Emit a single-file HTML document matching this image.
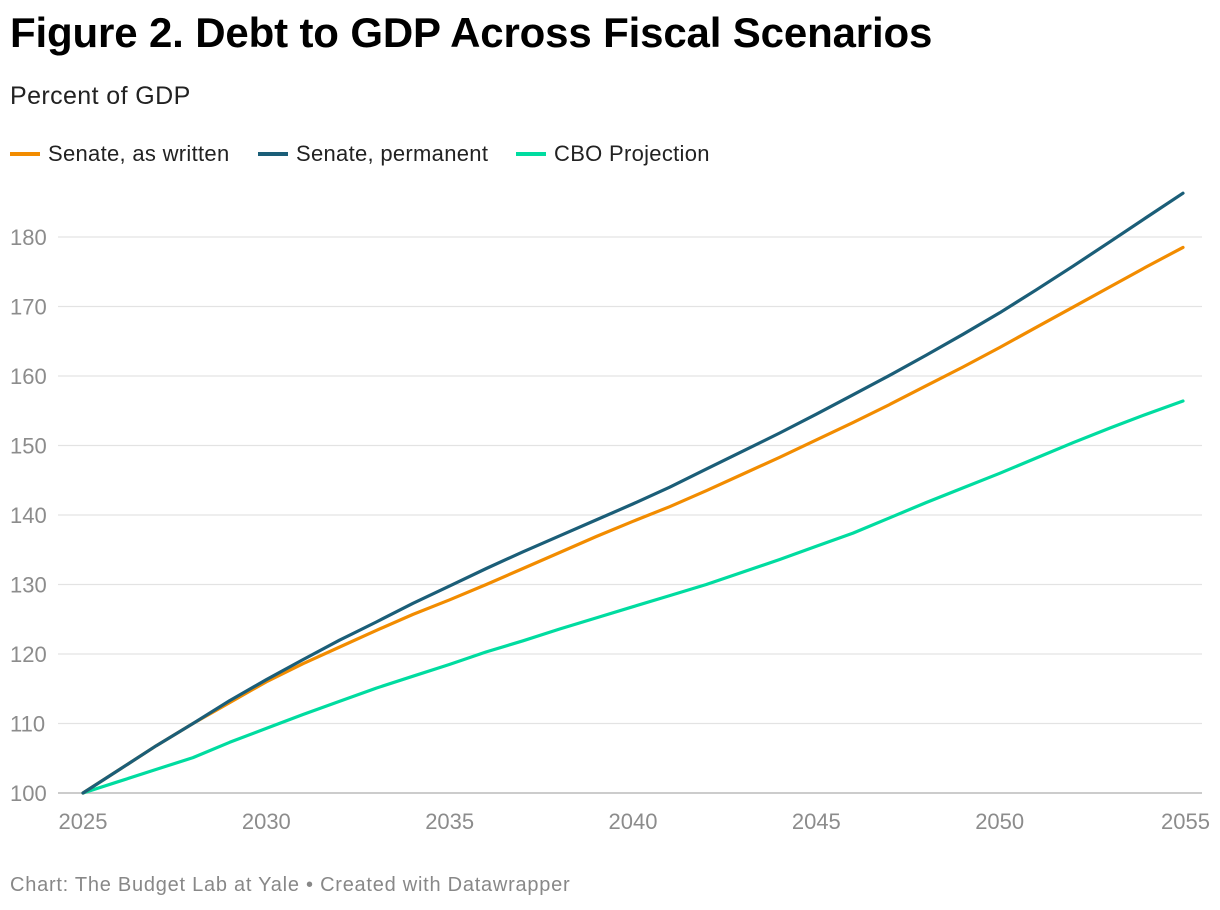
<!DOCTYPE html>
<html><head><meta charset="utf-8">
<style>
body{margin:0;background:#fff;width:1220px;height:910px;overflow:hidden;font-family:"Liberation Sans",sans-serif;}
#title{position:absolute;left:10px;top:9px;font-size:42px;font-weight:bold;color:#000;letter-spacing:-0.15px;}
#sub{position:absolute;left:10px;top:82px;font-size:25px;color:#222;letter-spacing:0.4px;}
.leg{position:absolute;top:141px;font-size:22px;color:#222;display:flex;align-items:center;letter-spacing:0.3px;}
.leg span.sw{display:inline-block;width:30px;height:4px;margin-right:8px;}
#foot{position:absolute;left:10px;top:874px;font-size:20px;color:#888;letter-spacing:0.75px;}
</style></head><body>
<div id="title">Figure 2. Debt to GDP Across Fiscal Scenarios</div>
<div id="sub">Percent of GDP</div>
<div class="leg" style="left:10px"><span class="sw" style="background:#f28c00"></span>Senate, as written</div>
<div class="leg" style="left:258px"><span class="sw" style="background:#1b5e78"></span>Senate, permanent</div>
<div class="leg" style="left:516px"><span class="sw" style="background:#00dca0"></span>CBO Projection</div>
<svg id="chart" width="1220" height="910" style="position:absolute;left:0;top:0"></svg>
<div id="foot">Chart: The Budget Lab at Yale • Created with Datawrapper</div>
<script>
const years=[2025,2026,2027,2028,2029,2030,2031,2032,2033,2034,2035,2036,2037,2038,2039,2040,2041,2042,2043,2044,2045,2046,2047,2048,2049,2050,2051,2052,2053,2054,2055];
const senateWritten=[100,103.4,106.8,110,113,116,118.6,121,123.4,125.7,127.8,130,132.3,134.6,136.9,139.1,141.2,143.5,145.9,148.3,150.8,153.3,155.9,158.6,161.3,164.1,167,169.9,172.8,175.7,178.5];
const senatePermanent=[100,103.4,106.8,110,113.3,116.3,119.2,122,124.6,127.3,129.8,132.3,134.7,137,139.3,141.6,144,146.6,149.2,151.8,154.5,157.3,160.1,163,166,169.1,172.4,175.8,179.3,182.8,186.3];
const cbo=[100,101.7,103.4,105.1,107.3,109.3,111.3,113.2,115.1,116.8,118.5,120.3,121.9,123.6,125.2,126.8,128.4,130,131.8,133.6,135.5,137.4,139.6,141.8,143.9,146,148.2,150.4,152.5,154.5,156.4];
const yTicks=[100,110,120,130,140,150,160,170,180];
const xTicks=[2025,2030,2035,2040,2045,2050,2055];
const NS="http://www.w3.org/2000/svg";
const svg=document.getElementById('chart');
const x=v=>83+(v-2025)*(1100/30);
const y=v=>793-(v-100)*6.95;
function mk(t,a){const e=document.createElementNS(NS,t);for(const k in a)e.setAttribute(k,a[k]);svg.appendChild(e);return e;}
yTicks.forEach(t=>{
  const l=mk('line',{x1:58,x2:1202,y1:y(t),y2:y(t),stroke:t===100?'#bbb':'#e3e3e3','stroke-width':t===100?1.5:1.2});
  
  
  const tx=mk('text',{x:10,y:y(t)+8,'font-size':22,fill:'#8c8c8c','font-family':'Liberation Sans, sans-serif'});
  tx.textContent=t;
  
  
});
xTicks.forEach((t,i)=>{
  const tx=mk('text',{x:x(t),y:829,'font-size':22,fill:'#8c8c8c','text-anchor':i===xTicks.length-1?'end':'middle','font-family':'Liberation Sans, sans-serif'});
  if(i===xTicks.length-1)tx.setAttribute('x',x(t)+27);
  tx.textContent=t;
  
  
});
function line(vals,color,name){
  const d=vals.map((v,i)=>(i?'L':'M')+x(years[i]).toFixed(1)+','+y(v).toFixed(1)).join(' ');
  const p=mk('path',{d:d,fill:'none',stroke:color,'stroke-width':3.2,'stroke-linejoin':'round','stroke-linecap':'round'});
  
  
}
line(cbo,'#00dca0','line-cbo-projection');
line(senateWritten,'#f28c00','line-senate-as-written');
line(senatePermanent,'#1b5e78','line-senate-permanent');
</script>
</body></html>
